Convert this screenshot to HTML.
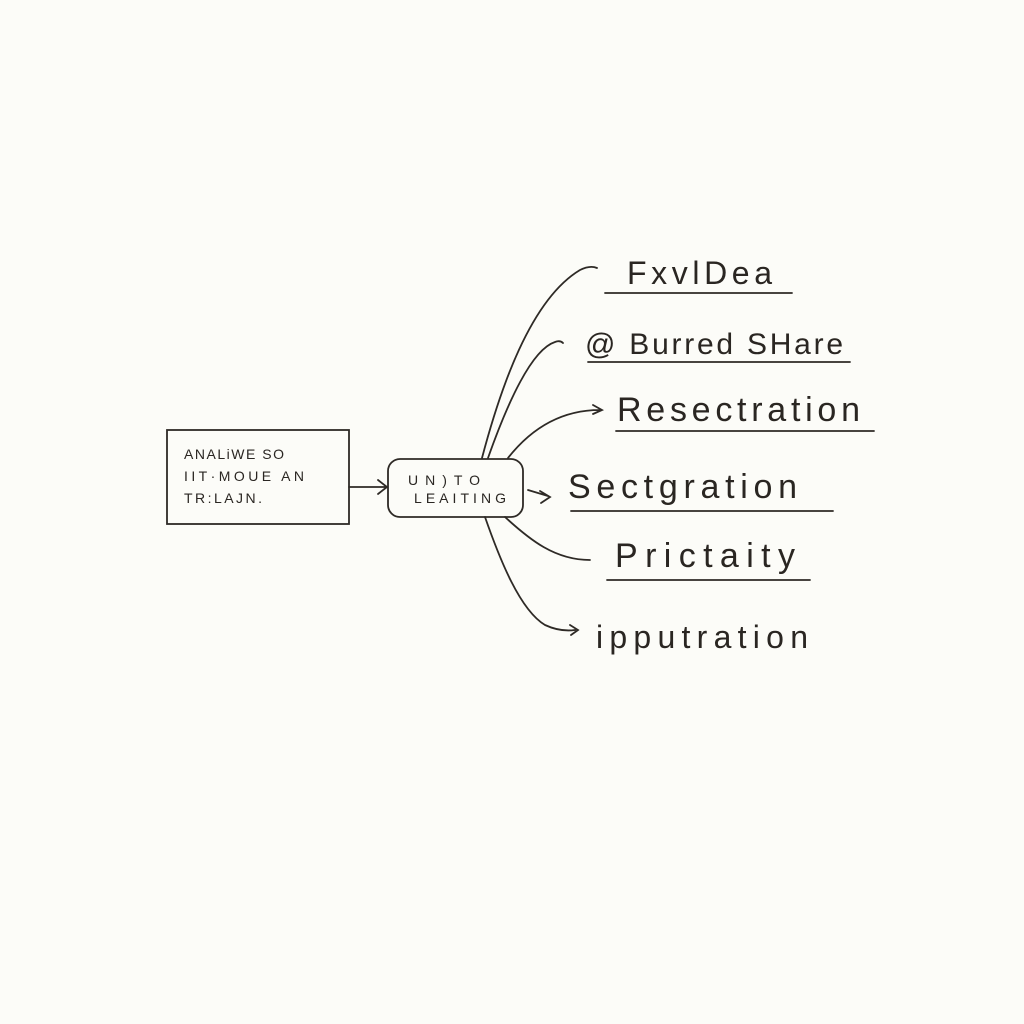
<!DOCTYPE html>
<html><head><meta charset="utf-8"><style>
html,body{margin:0;padding:0;background:#fcfcf8;}
svg{display:block}
text{font-family:"Liberation Sans",sans-serif;fill:#2a2622}
</style></head><body>
<svg width="1024" height="1024" viewBox="0 0 1024 1024" xmlns="http://www.w3.org/2000/svg">
<rect width="1024" height="1024" fill="#fcfcf8"/>
<g fill="none" stroke="#2e2a26" stroke-width="1.8" stroke-linecap="round">
<rect x="167" y="430" width="182" height="94"/>
<rect x="388" y="459" width="135" height="58" rx="12"/>
<path d="M349 487 L386 487 M378 480 L387 487 L378 494"/>
<path d="M482 458 C500 390 530 300 580 270 Q590 265 597 268"/>
<path d="M488 458 C505 410 530 350 555 342 Q560 340 563 343"/>
<path d="M508 458 C530 430 560 410 600 410 M593 405 L602 410 L593 414"/>
<path d="M528 490 L548 496 M540 491 L550 497 L541 503"/>
<path d="M505 517 C530 540 555 560 590 560"/>
<path d="M485 517 C500 560 520 610 545 625 Q560 632 575 630 M570 625 L578 630 L571 635"/>
<path d="M605 293 L792 293"/>
<path d="M588 362 L850 362"/>
<path d="M616 431 L874 431"/>
<path d="M571 511 L833 511"/>
<path d="M607 580 L810 580"/>
</g>
<text x="184" y="459" font-size="14" textLength="100" lengthAdjust="spacing">ANALiWE SO</text>
<text x="184" y="481" font-size="14" textLength="120" lengthAdjust="spacing">IIT·MOUE AN</text>
<text x="184" y="503" font-size="14" textLength="78" lengthAdjust="spacing">TR:LAJN.</text>
<text x="408" y="485" font-size="14" textLength="72" lengthAdjust="spacing">UN)TO</text>
<text x="414" y="503" font-size="14" textLength="92" lengthAdjust="spacing">LEAITING</text>
<text x="627" y="284" font-size="32" textLength="145" lengthAdjust="spacing">FxvlDea</text>
<text x="585" y="354" font-size="30" textLength="258" lengthAdjust="spacing">@ Burred SHare</text>
<text x="617" y="421" font-size="34" textLength="243" lengthAdjust="spacing">Resectration</text>
<text x="568" y="498" font-size="34" textLength="229" lengthAdjust="spacing">Sectgration</text>
<text x="615" y="567" font-size="34" textLength="180" lengthAdjust="spacing">Prictaity</text>
<text x="596" y="648" font-size="32" textLength="212" lengthAdjust="spacing">ipputration</text>
</svg>
</body></html>
